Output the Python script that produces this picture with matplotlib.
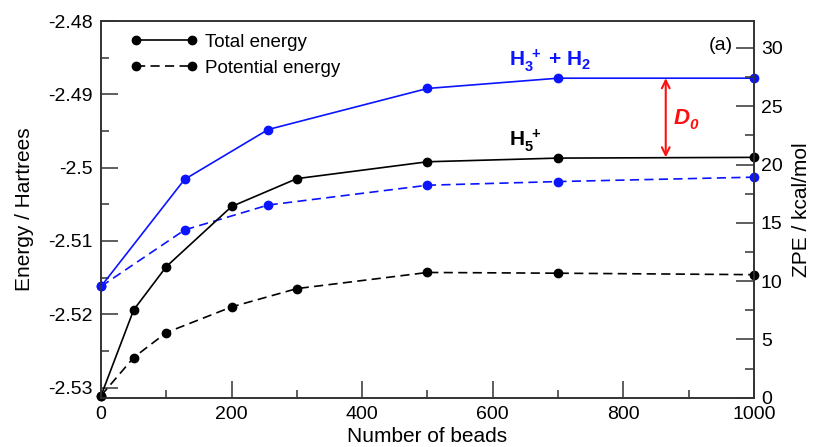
import matplotlib
matplotlib.use("Agg")
import matplotlib.pyplot as plt
from matplotlib.lines import Line2D
from matplotlib.ticker import MultipleLocator, FuncFormatter

plt.rcParams['font.family'] = ['Liberation Sans', 'DejaVu Sans']
plt.rcParams['axes.unicode_minus'] = False
plt.rcParams['mathtext.fontset'] = 'custom'
plt.rcParams['mathtext.rm'] = 'Liberation Sans'
plt.rcParams['mathtext.bf'] = 'Liberation Sans:bold'
plt.rcParams['mathtext.it'] = 'Liberation Sans:italic:bold'

# H3+ + H2 : total / potential
beads_h3 = [0, 128, 256, 500, 700, 1000]
total_h3 = [-2.5162, -2.5016, -2.4948, -2.4892, -2.4878, -2.4878]
pot_h3 = [-2.5162, -2.5085, -2.5051, -2.5024, -2.5019, -2.5013]

# H5+ : total / potential
beads_h5 = [0, 50, 100, 200, 300, 500, 700, 1000]
total_h5 = [-2.5311, -2.5194, -2.5135, -2.5053, -2.5015, -2.4992, -2.4987, -2.4986]
pot_h5 = [-2.5311, -2.5259, -2.5225, -2.5190, -2.5165, -2.5143, -2.5144, -2.5146]

blue = "#0a14ff"
red = "#ff1010"
lw = 1.2
ms = 6
dash = (5.5, 3.2)

fig = plt.figure(figsize=(8.15, 4.47), dpi=100)
ax = fig.add_axes([0.124, 0.11, 0.801, 0.843])

ax.plot(beads_h3, total_h3, "-o", color=blue, lw=lw, ms=ms, clip_on=False, zorder=3)
ax.plot(beads_h3, pot_h3, "--o", color=blue, lw=lw, ms=ms, dashes=dash, clip_on=False, zorder=3)
ax.plot(beads_h5, total_h5, "-o", color="black", lw=lw, ms=ms, clip_on=False, zorder=3)
ax.plot(beads_h5, pot_h5, "--o", color="black", lw=lw, ms=ms, dashes=dash, clip_on=False, zorder=3)

ax.set_xlim(0, 1000)
ax.set_ylim(-2.5314, -2.48)

# D0 arrow between the two total energy plateaus
ax.annotate("", xy=(865, total_h3[-1]), xytext=(865, total_h5[-1]),
            arrowprops=dict(arrowstyle="<->", color=red, lw=1.5,
                            mutation_scale=14, shrinkA=0, shrinkB=0))
ax.text(877, -2.4940, "D", color=red, fontsize=16, fontweight="bold",
        fontstyle="italic", va="baseline")
ax.annotate("0", xy=(877, -2.4940), xytext=(11.5, -4), textcoords="offset points",
            color=red, fontsize=11, fontweight="bold", fontstyle="italic", va="baseline")
ax.text(625, -2.4861, r"$\mathbf{H_3^{\ +}}$ + $\mathbf{H_2}$", color=blue, fontsize=15,
        fontweight="bold", va="baseline")
ax.text(625, -2.4971, r"$\mathbf{H_5^{\ +}}$", color="black", fontsize=15, va="baseline")
ax.text(968, -2.4834, "(a)", fontsize=14, ha="right", va="center")

fmt = FuncFormatter(lambda v, p: f"{round(v, 4):g}")
ax.xaxis.set_major_locator(MultipleLocator(200))
ax.xaxis.set_minor_locator(MultipleLocator(100))
ax.yaxis.set_major_locator(MultipleLocator(0.01))
ax.yaxis.set_minor_locator(MultipleLocator(0.005))
ax.yaxis.set_major_formatter(fmt)
ax.tick_params(which="both", direction="in", top=False, right=False, labelsize=14,
               width=1.1, color="#333333", pad=6)
ax.tick_params(which="major", length=12)
ax.tick_params(which="minor", length=6)

ax.set_xlabel("Number of beads", fontsize=15, labelpad=3)
ax.set_ylabel("Energy / Hartrees", fontsize=15, labelpad=10)

ax2 = ax.twinx()
ax2.set_ylim(0, 32.3)
ax2.yaxis.set_major_locator(MultipleLocator(5))
ax2.yaxis.set_minor_locator(MultipleLocator(2.5))
ax2.tick_params(which="both", direction="in", labelsize=14, width=1.1, color="#333333", pad=5)
ax2.tick_params(which="major", length=13)
ax2.tick_params(which="minor", length=6.5)
ax2.set_ylabel("ZPE / kcal/mol", fontsize=15, labelpad=7)

for a in (ax, ax2):
    for s in a.spines.values():
        s.set_linewidth(1.2)
        s.set_color("#333333")

handles = [
    Line2D([0, 1], [0, 0], color="black", lw=lw, marker="o", ms=ms, ls="-"),
    Line2D([0, 1], [0, 0], color="black", lw=lw, marker="o", ms=ms, ls="--", dashes=dash),
]
ax.legend(handles, ["Total energy", "Potential energy"], loc="upper left",
          bbox_to_anchor=(0.045, 0.966), frameon=False, fontsize=13.5,
          numpoints=2, handlelength=3.6, handletextpad=0.4,
          labelspacing=0.45, borderpad=0, borderaxespad=0)

fig.savefig("out.png", dpi=100)
